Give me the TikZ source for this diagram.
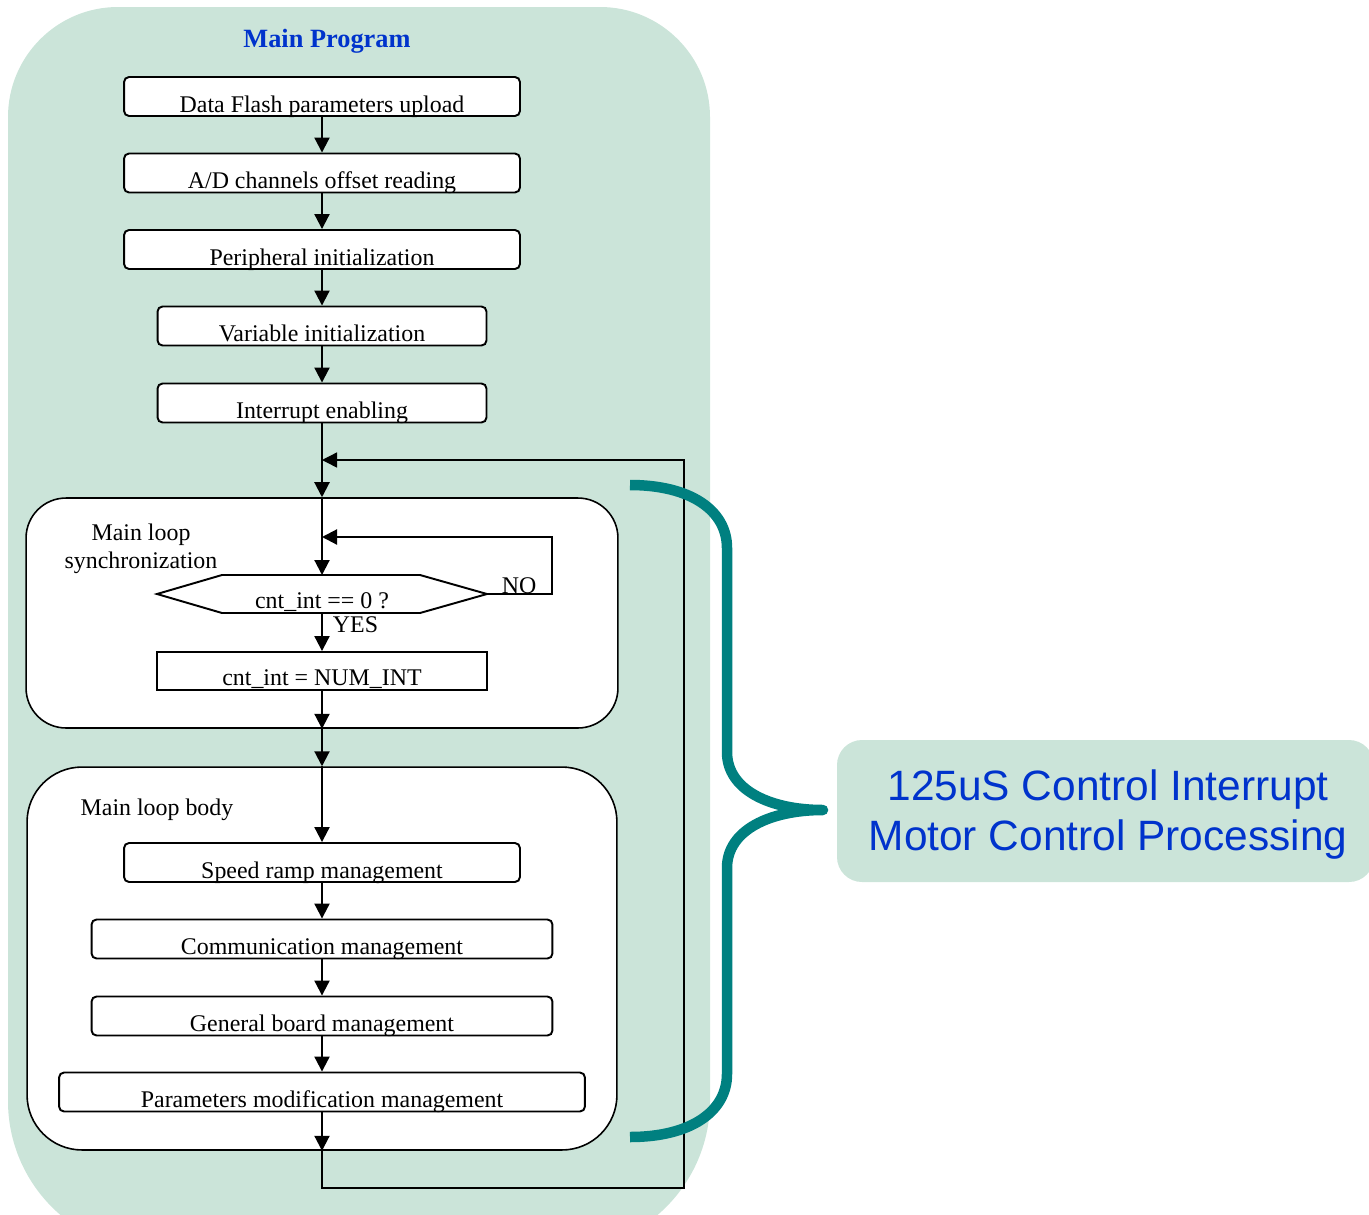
\documentclass[tikz,border=0pt]{standalone}
\usepackage{fontspec}
\setmainfont{Liberation Serif}
\newfontfamily\arialf{Liberation Sans}
\usetikzlibrary{arrows.meta}
\definecolor{bgc}{RGB}{203,228,217}
\definecolor{ttl}{RGB}{0,51,204}
\definecolor{brc}{RGB}{0,128,128}
\begin{document}
\begin{tikzpicture}[x=0.02cm,y=-0.02cm,
  txt/.style={font=\fontsize{13.6}{16}\selectfont},
  pbox/.style={draw, line width=1.1pt, rounded corners=0.1cm, fill=white, inner sep=0pt, txt, text height=0.7cm, text depth=0.08cm},
  rbox/.style={draw, line width=1.1pt, sharp corners, fill=white, inner sep=0pt, txt, text height=0.66cm, text depth=0.1cm},
  grp/.style={draw, line width=0.9pt, fill=white, inner sep=0pt},
  arr/.style={line width=1.2pt, -{Triangle[length=0.3cm,width=0.3cm]}},
  fb/.style={line width=0.8pt, -{Triangle[length=0.3cm,width=0.3cm]}},
  lbl/.style={txt, inner sep=0pt, anchor=base},
]
\path[use as bounding box] (0,0) rectangle (1369,1214);
\clip (0,0) rectangle (1369,1214);

% background panel
\fill[bgc, rounded corners=2.2cm] (8,600) -- (8,7) -- (710,7) -- (710,600) [rounded corners=3cm] -- (710,1251) -- (8,1251) -- (8,600) -- cycle;
% callout panel
\fill[bgc, rounded corners=0.5cm] (837,740) rectangle (1374,882);

\node[font=\fontsize{15}{18}\selectfont\bfseries, text=ttl, inner sep=0pt, anchor=base] (title) at (327,47) {Main Program};

% top chain
\node[pbox, minimum width=7.92cm] (b1) at (322,96.5) {Data Flash parameters upload};
\node[pbox, minimum width=7.92cm] (b2) at (322,173) {A/D channels offset reading};
\node[pbox, minimum width=7.92cm] (b3) at (322,249.5) {Peripheral initialization};
\node[pbox, minimum width=6.58cm] (b4) at (322,326) {Variable initialization};
\node[pbox, minimum width=6.58cm] (b5) at (322,403) {Interrupt enabling};

\draw[arr] (b1.south) -- (b2.north);
\draw[arr] (b2.south) -- (b3.north);
\draw[arr] (b3.south) -- (b4.north);
\draw[arr] (b4.south) -- (b5.north);

% group containers
\node[grp, rounded corners=0.8cm, minimum width=11.84cm, minimum height=4.6cm] (sync) at (322,613) {};
\node[grp, rounded corners=1.1cm, minimum width=11.8cm, minimum height=7.66cm] (body) at (322,958.5) {};

\node[lbl] (ls1) at (141,540) {Main loop};
\node[lbl] (ls2) at (141,568) {synchronization};
\node[lbl] (lb) at (157,815) {Main loop body};

\coordinate (fbj) at (322,460);
\draw[arr] (b5.south) -- (sync.north);

% decision
\coordinate (hl) at (157,594);
\coordinate (htl) at (222,575);
\coordinate (htr) at (420,575);
\coordinate (hr) at (487,594);
\coordinate (hbr) at (420,613);
\coordinate (hbl) at (222,613);
\coordinate (htop) at (322,575);
\coordinate (hbot) at (322,613);
\draw[line width=1.1pt, fill=white] (hl) -- (htl) -- (htr) -- (hr) -- (hbr) -- (hbl) -- cycle;
\node[lbl] (dec) at (322,608) {cnt\_int == 0 ?};

\coordinate (nj) at (322,537);
\coordinate (nor) at (552,594);
\draw[arr] (sync.north) -- (htop);
\draw[arr] (hr) -- (nor) |- (nj);
\node[lbl] (no) at (519,593) {NO};

\node[rbox, minimum width=6.6cm] (cnt) at (322,671) {cnt\_int = NUM\_INT};
\draw[arr] (hbot) -- (cnt.north);
\node[lbl] (yes) at (355.5,632) {YES};
\draw[arr] (cnt.south) -- (sync.south);
\draw[arr] (sync.south) -- (body.north);

% loop body
\node[pbox, minimum width=7.92cm] (sp) at (322,862.5) {Speed ramp management};
\node[pbox, minimum width=9.22cm] (cm) at (322,939) {Communication management};
\node[pbox, minimum width=9.22cm] (gb) at (322,1016) {General board management};
\node[pbox, minimum width=10.52cm] (pm) at (322,1092) {Parameters modification management};

\draw[arr] (body.north) -- (sp.north);
\draw[arr] (sp.south) -- (cm.north);
\draw[arr] (cm.south) -- (gb.north);
\draw[arr] (gb.south) -- (pm.north);
\draw[arr] (pm.south) -- (body.south);

% feedback loop
\coordinate (fbr) at (684,1188);
\draw[fb] (body.south) |- (fbr) |- (fbj);

% brace
\draw[brc, line width=0.21cm, line cap=butt, line join=round]
  (630,485) .. controls (690,485) and (727,510) .. (727,548) -- (727,752)
  .. controls (727,790) and (770,810) .. (823,810)
  .. controls (770,810) and (727,830) .. (727,868) -- (727,1074)
  .. controls (727,1112) and (690,1137) .. (630,1137);

% callout text
\node[font=\arialf\fontsize{24.15}{28.45}\selectfont, text=ttl, inner sep=0pt, anchor=base] (ct1) at (1108,800) {125uS Control Interrupt};
\node[font=\arialf\fontsize{24.15}{28.45}\selectfont, text=ttl, inner sep=0pt, anchor=base] (ct2) at (1108,850) {Motor Control Processing};
\end{tikzpicture}
\end{document}
